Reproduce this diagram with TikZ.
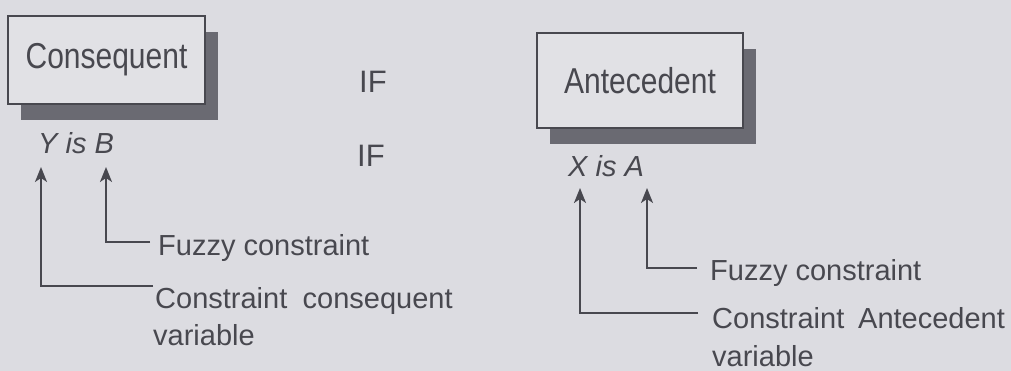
\documentclass[tikz,border=0pt]{standalone}
\usepackage{fontspec}
\setmainfont{Liberation Sans}
\usetikzlibrary{arrows.meta,shadows}
\definecolor{bg}{HTML}{DCDCE1}
\definecolor{ink}{HTML}{48484F}
\definecolor{shade}{HTML}{6A6A72}
\definecolor{boxfill}{HTML}{E1E1E5}
\begin{document}
\begin{tikzpicture}[x=1pt,y=-1pt,
  txt/.style={font=\fontsize{29}{34}\selectfont, text=ink, inner sep=0pt, anchor=base west},
  boxed/.style={draw=ink, line width=1.3pt, fill=boxfill, text=ink, inner sep=0pt,
     font=\fontsize{30}{34}\selectfont,
     drop shadow={shadow xshift=12.5pt, shadow yshift=-16.5pt, fill=shade, opacity=1}},
  arr/.style={draw=ink, line width=2pt, -{Stealth[length=15pt,width=12pt,inset=4pt]}}]
\fill[bg] (0,0) rectangle (1011,371);
\useasboundingbox (0,0) rectangle (1011,371);

% boxes
\node[boxed, minimum width=197pt, minimum height=88pt] (cons) at (106.5,60) {\scalebox{1}[1.2]{Consequent}};
\node[boxed, minimum width=206pt, minimum height=95pt] (ante) at (640,80.5) {\scalebox{1}[1.2]{Antecedent}};

% IF labels
\node[txt, font=\fontsize{31}{34}\selectfont] (if1) at (359,93) {IF};
\node[txt, font=\fontsize{31}{34}\selectfont] (if2) at (357,167) {IF};

% left statement
\node[txt] (yisb) at (38,154) {\itshape Y is B};
\node[txt] (fz1) at (158,255) {Fuzzy constraint};
\node[txt] (cc1) at (155,308) {Constraint\hspace{0.25em} consequent};
\node[txt] (cc2) at (153,345) {variable};

\coordinate (tY) at (41,167);
\coordinate (cY) at (41,286);
\coordinate (tB) at (106,167);
\coordinate (cB) at (106,242);
\draw[arr] ([xshift=-2pt]cc1.west |- cY) -- (cY) -- (tY);
\draw[arr] ([xshift=-8pt]fz1.west |- cB) -- (cB) -- (tB);

% right statement
\node[txt] (xisa) at (568,177) {\itshape X is A};
\node[txt] (fz2) at (710,280) {Fuzzy constraint};
\node[txt] (ca1) at (712,328) {Constraint\hspace{0.2em} Antecedent};
\node[txt] (ca2) at (712,366) {variable};

\coordinate (tX) at (580,188);
\coordinate (cX) at (580,313);
\coordinate (tA) at (647,188);
\coordinate (cA) at (647,268);
\draw[arr] ([xshift=-14pt]ca1.west |- cX) -- (cX) -- (tX);
\draw[arr] ([xshift=-13pt]fz2.west |- cA) -- (cA) -- (tA);
\end{tikzpicture}
\end{document}
